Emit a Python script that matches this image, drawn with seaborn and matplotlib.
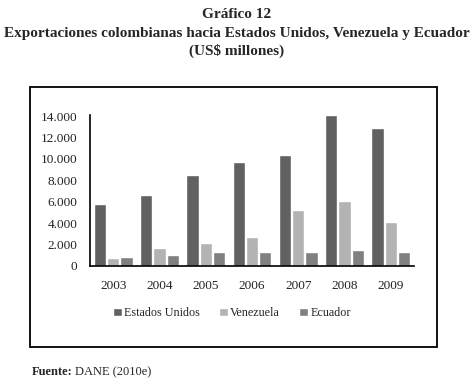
import numpy as np
import pandas as pd
import matplotlib
matplotlib.use('Agg')
import matplotlib.pyplot as plt
import seaborn as sns
from matplotlib.patches import Rectangle
from matplotlib.ticker import FuncFormatter

# Exportaciones (US$ millones)
years = ['2003', '2004', '2005', '2006', '2007', '2008', '2009']
estados_unidos = [5800, 6630, 8490, 9710, 10360, 14090, 12880]
venezuela = [780, 1680, 2150, 2740, 5230, 6070, 4110]
ecuador = [870, 1060, 1310, 1310, 1310, 1490, 1310]
series = ['Estados Unidos', 'Venezuela', 'Ecuador']
colors = ['#616161', '#b3b3b3', '#808080']

data = pd.DataFrame({
    'year': years * 3,
    'pais': [s for s in series for _ in years],
    'valor': estados_unidos + venezuela + ecuador,
})

sns.set_style('white')
plt.rcParams['font.family'] = ['Liberation Serif', 'DejaVu Serif']

W, H = 473, 382
fig = plt.figure(figsize=(W / 100, H / 100), dpi=100)
ax = fig.add_axes([90 / W, 1 - 266 / H, (414 - 90) / W, (266 - 115) / H])

sns.barplot(data=data, x='year', y='valor', hue='pais', palette=colors,
            width=0.86, gap=0.08, saturation=1, ax=ax, legend=True)

ax.set_ylim(0, 14100)
ax.set_xlim(-0.5, 6.5)
ax.set_yticks(range(0, 14001, 2000))
ax.yaxis.set_major_formatter(FuncFormatter(lambda v, p: f'{int(v):,}'.replace(',', '.')))
ax.set_xlabel('')
ax.set_ylabel('')
ax.tick_params(axis='both', length=0, labelsize=9.5, colors='#222222')
ax.tick_params(axis='x', pad=10)
ax.tick_params(axis='y', pad=9)
for side in ['top', 'right']:
    ax.spines[side].set_visible(False)
for side in ['left', 'bottom']:
    ax.spines[side].set_color('black')
    ax.spines[side].set_linewidth(1.2)

ax.legend(loc='center', bbox_to_anchor=(232 / W, 1 - 313 / H),
          bbox_transform=fig.transFigure, ncol=3, frameon=False,
          fontsize=8.7, handlelength=0.7, handleheight=0.7,
          handletextpad=0.2, columnspacing=1.6)

# outer frame
fig.patches.append(Rectangle((30 / W, 1 - 347 / H), (437 - 30) / W, (347 - 87) / H,
                             transform=fig.transFigure, fill=False,
                             edgecolor='black', linewidth=1.3))

fig.text(0.5, 1 - 15 / H, 'Gráfico 12', ha='center', va='center',
         fontsize=11, fontweight='bold')
fig.text(0.5, 1 - 33 / H, 'Exportaciones colombianas hacia Estados Unidos, Venezuela y Ecuador',
         ha='center', va='center', fontsize=11, fontweight='bold')
fig.text(0.5, 1 - 51 / H, '(US$ millones)', ha='center', va='center',
         fontsize=11, fontweight='bold')

fig.text(32 / W, 1 - 372 / H, 'Fuente:', ha='left', va='center',
         fontsize=9, fontweight='bold')
fig.text(75 / W, 1 - 372 / H, 'DANE (2010e)', ha='left', va='center', fontsize=9)

fig.savefig('out.png', dpi=100)
